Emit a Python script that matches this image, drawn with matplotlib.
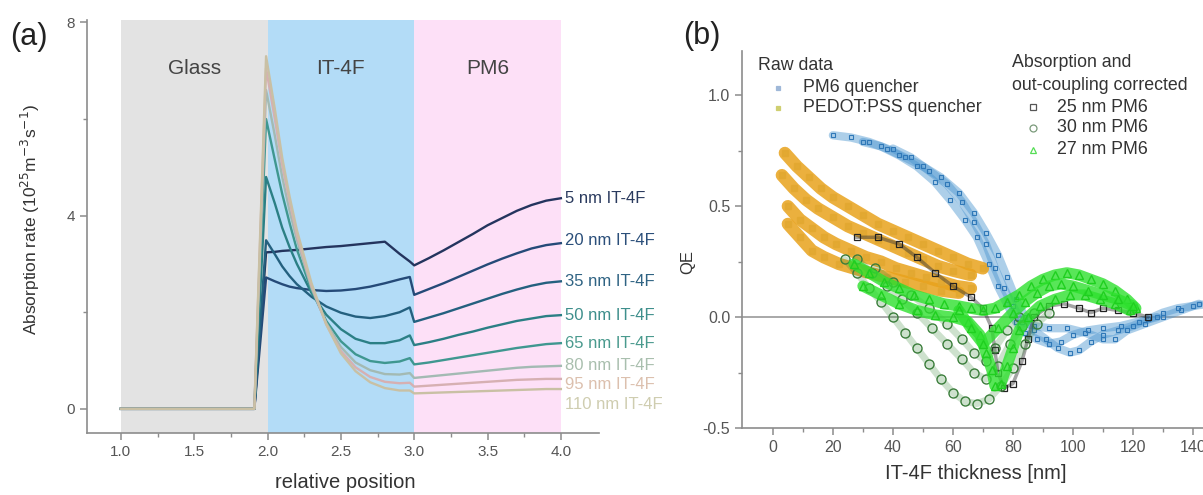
import matplotlib
matplotlib.use("Agg")
import matplotlib.pyplot as plt
from matplotlib.lines import Line2D

plt.rcParams['font.family'] = ['Liberation Sans', 'DejaVu Sans']
plt.rcParams['axes.unicode_minus'] = False

# ---- panel (a): absorption profiles ----
pos = [1.0, 1.91, 1.99, 2.05, 2.1, 2.15, 2.2, 2.3, 2.4, 2.5, 2.6, 2.7, 2.8, 2.9, 2.97,
       3.0, 3.1, 3.2, 3.3, 3.4, 3.5, 3.6, 3.7, 3.8, 3.9, 4.0]
nm5 = [0, 0, 3.24, 3.25, 3.27, 3.28, 3.29, 3.32, 3.35, 3.37, 3.4, 3.43, 3.46, 3.21, 3.05,
       2.97, 3.12, 3.28, 3.45, 3.62, 3.8, 3.95, 4.1, 4.22, 4.31, 4.36]
nm20 = [0, 0, 2.72, 2.64, 2.58, 2.53, 2.5, 2.46, 2.44, 2.45, 2.48, 2.53, 2.6, 2.68, 2.73,
        2.36, 2.48, 2.6, 2.73, 2.86, 2.99, 3.11, 3.22, 3.32, 3.39, 3.43]
nm35 = [0, 0, 3.49, 3.2, 2.95, 2.75, 2.58, 2.32, 2.12, 1.99, 1.91, 1.88, 1.92, 2.0, 2.1,
        1.8, 1.89, 1.98, 2.08, 2.18, 2.28, 2.38, 2.47, 2.55, 2.61, 2.64]
nm50 = [0, 0, 4.8, 4.25, 3.75, 3.35, 3.0, 2.4, 1.95, 1.65, 1.45, 1.36, 1.36, 1.42, 1.52,
        1.32, 1.38, 1.45, 1.53, 1.6, 1.68, 1.75, 1.82, 1.87, 1.92, 1.94]
nm65 = [0, 0, 6.0, 5.15, 4.45, 3.85, 3.3, 2.45, 1.82, 1.4, 1.13, 0.99, 0.95, 0.98, 1.05,
        0.92, 0.96, 1.01, 1.06, 1.11, 1.16, 1.21, 1.26, 1.3, 1.34, 1.36]
nm80 = [0, 0, 6.6, 5.65, 4.8, 4.1, 3.5, 2.5, 1.78, 1.28, 0.96, 0.8, 0.72, 0.71, 0.74,
        0.64, 0.67, 0.7, 0.73, 0.76, 0.79, 0.82, 0.85, 0.87, 0.88, 0.89]
nm95 = [0, 0, 7.05, 6.0, 5.05, 4.3, 3.6, 2.55, 1.75, 1.2, 0.86, 0.66, 0.56, 0.53, 0.54,
        0.46, 0.48, 0.5, 0.52, 0.54, 0.56, 0.58, 0.6, 0.61, 0.62, 0.62]
nm110 = [0, 0, 7.3, 6.2, 5.2, 4.4, 3.7, 2.6, 1.75, 1.15, 0.78, 0.55, 0.43, 0.38, 0.38,
         0.32, 0.33, 0.34, 0.35, 0.36, 0.37, 0.38, 0.39, 0.4, 0.41, 0.41]
curves = [nm5, nm20, nm35, nm50, nm65, nm80, nm95, nm110]
names = ["5 nm IT-4F", "20 nm IT-4F", "35 nm IT-4F", "50 nm IT-4F",
         "65 nm IT-4F", "80 nm IT-4F", "95 nm IT-4F", "110 nm IT-4F"]
label_y = [4.36, 3.49, 2.64, 1.94, 1.36, 0.89, 0.5, 0.1]
line_cols = ["#24345e", "#254a78", "#24607f", "#2b7f85", "#3f9790", "#a3bab3", "#d6b0b2", "#c9c0a4"]
text_cols = ["#2a3a5e", "#2b4f7a", "#2f6383", "#3e8f8c", "#4a9a8e", "#a9bfae", "#dcc0ae", "#cfcdb0"]

layers = ["Glass", "IT-4F", "PM6"]
layer_edges = [1.0, 2.0, 3.0, 4.0]
layer_cols = ["#e3e3e3", "#b3dcf7", "#fde0f7"]

# ---- panel (b): QE vs thickness, tracks ----
pm6_x1 = [20, 26, 32, 38, 44, 50, 56, 62, 67, 71, 75, 78, 81, 84, 87, 91, 95, 99, 102, 106,
          110, 115, 120, 125, 130, 135, 140, 145]
pm6_y1 = [0.82, 0.81, 0.79, 0.76, 0.72, 0.68, 0.63, 0.56, 0.47, 0.38, 0.28, 0.18, 0.08, 0.0,
          -0.06, -0.1, -0.14, -0.16, -0.15, -0.11, -0.08, -0.06, -0.04, -0.01, 0.02, 0.04, 0.05, 0.06]
pm6_x2 = [30, 36, 42, 48, 54, 59, 64, 68, 72, 75, 78, 81, 84, 88, 92, 96, 100, 105, 110, 116, 122, 128]
pm6_y2 = [0.79, 0.77, 0.73, 0.68, 0.61, 0.53, 0.44, 0.36, 0.24, 0.14, 0.06, -0.02, -0.07, -0.1,
          -0.12, -0.11, -0.08, -0.06, -0.05, -0.04, -0.02, 0.0]
pm6_x3 = [40, 46, 52, 58, 63, 67, 71, 74, 77, 80, 83, 87, 92, 98, 104, 110, 114, 118, 124, 130, 136, 142]
pm6_y3 = [0.76, 0.72, 0.66, 0.6, 0.52, 0.43, 0.33, 0.22, 0.13, 0.05, -0.02, -0.04, -0.05, -0.05,
          -0.07, -0.1, -0.1, -0.06, -0.03, 0.0, 0.03, 0.06]

ped_x1 = [4, 8, 12, 16, 20, 25, 30, 35, 40, 45, 50, 55, 60, 65, 70]
ped_y1 = [0.74, 0.68, 0.63, 0.58, 0.54, 0.5, 0.46, 0.42, 0.39, 0.36, 0.33, 0.3, 0.27, 0.24, 0.22]
ped_x2 = [3, 7, 11, 15, 20, 25, 30, 35, 40, 45, 50, 55, 60, 66]
ped_y2 = [0.64, 0.58, 0.53, 0.49, 0.45, 0.41, 0.38, 0.35, 0.32, 0.29, 0.26, 0.23, 0.21, 0.19]
ped_x3 = [5, 9, 13, 17, 21, 26, 31, 36, 41, 46, 51, 56, 61, 66]
ped_y3 = [0.5, 0.44, 0.4, 0.36, 0.33, 0.3, 0.27, 0.25, 0.22, 0.2, 0.18, 0.16, 0.14, 0.13]
ped_x4 = [5, 9, 13, 17, 22, 27, 32, 38, 44, 50, 56, 62]
ped_y4 = [0.42, 0.36, 0.3, 0.27, 0.24, 0.22, 0.2, 0.18, 0.16, 0.14, 0.12, 0.11]

pm25_x = [28, 35, 42, 48, 54, 60, 66, 70, 73, 74, 75, 77, 80, 83, 85, 87, 92, 97, 102, 106, 110, 115, 120, 125]
pm25_y = [0.36, 0.36, 0.33, 0.27, 0.2, 0.14, 0.09, 0.04, -0.05, -0.15, -0.25, -0.32, -0.3, -0.2,
          -0.1, 0.0, 0.05, 0.06, 0.04, 0.02, 0.04, 0.03, 0.02, 0.0]

pm30_x1 = [24, 28, 32, 36, 40, 44, 48, 52, 56, 60, 64, 68, 72, 76, 80, 84, 88, 92]
pm30_y1 = [0.26, 0.2, 0.13, 0.07, 0.0, -0.07, -0.14, -0.21, -0.28, -0.34, -0.38, -0.39, -0.37,
           -0.31, -0.23, -0.12, -0.03, 0.02]
pm30_x2 = [28, 33, 38, 43, 48, 53, 58, 63, 67, 71, 75, 79, 83, 87]
pm30_y2 = [0.26, 0.2, 0.14, 0.08, 0.02, -0.05, -0.12, -0.19, -0.25, -0.28, -0.22, -0.12, -0.04, 0.02]
pm30_x3 = [34, 40, 46, 52, 58, 63, 67, 71, 74, 78, 82]
pm30_y3 = [0.22, 0.16, 0.1, 0.04, -0.03, -0.1, -0.16, -0.2, -0.14, -0.06, 0.0]

pm27_x1 = [27, 32, 37, 42, 47, 52, 57, 62, 66, 70, 74, 78, 82, 86, 90, 94, 98, 102, 106, 110, 114, 118, 121]
pm27_y1 = [0.24, 0.2, 0.16, 0.13, 0.1, 0.08, 0.06, 0.05, 0.04, 0.03, 0.04, 0.07, 0.1, 0.14, 0.17,
           0.19, 0.2, 0.19, 0.17, 0.15, 0.12, 0.08, 0.04]
pm27_x2 = [30, 36, 42, 48, 54, 60, 65, 69, 71, 73, 74, 76, 78, 80, 82, 85, 89, 94, 99, 104, 109, 114, 119]
pm27_y2 = [0.14, 0.1, 0.06, 0.03, 0.01, 0.0, -0.02, -0.08, -0.16, -0.24, -0.31, -0.3, -0.22, -0.14,
           -0.06, 0.0, 0.05, 0.08, 0.1, 0.1, 0.08, 0.06, 0.03]
pm27_x3 = [62, 66, 70, 75, 80, 84, 88, 92, 96, 100, 105, 110, 115, 120]
pm27_y3 = [0.03, -0.05, -0.12, -0.05, 0.02, 0.07, 0.11, 0.14, 0.15, 0.14, 0.12, 0.1, 0.08, 0.05]

W, H = 1203, 495
fig = plt.figure(figsize=(W / 100, H / 100), dpi=100)

gray = "#8c8c8c"
tick_col = "#555555"

def style(ax, fs):
    for s in ["top", "right"]:
        ax.spines[s].set_visible(False)
    for s in ["left", "bottom"]:
        ax.spines[s].set_color(gray)
        ax.spines[s].set_linewidth(1.2)
    ax.tick_params(which="both", color=gray, labelcolor=tick_col, labelsize=fs, direction="out")
    ax.tick_params(which="major", length=5, width=1.1)
    ax.tick_params(which="minor", length=3, width=1.0)

# panel (a)
axa = fig.add_axes([87 / W, 1 - 433 / H, (599 - 87) / W, (433 - 20) / H])
for i in range(3):
    axa.axvspan(layer_edges[i], layer_edges[i + 1], color=layer_cols[i], lw=0, zorder=0)
    axa.text((layer_edges[i] + layer_edges[i + 1]) / 2, 7.05, layers[i], ha="center", va="center",
             fontsize=15, color="#444444")
for c, col in zip(curves, line_cols):
    axa.plot(pos, c, color=col, lw=1.7, zorder=2)
for name, ly, col in zip(names, label_y, text_cols):
    axa.text(4.03, ly, name, ha="left", va="center", fontsize=12, color=col)
axa.set_xlim(0.769, 4.26)
axa.set_ylim(-0.5, 8.05)
axa.set_xticks([1.0, 1.5, 2.0, 2.5, 3.0, 3.5, 4.0])
axa.set_xticks([1.25, 1.75, 2.25, 2.75, 3.25, 3.75], minor=True)
axa.set_yticks([0, 4, 8])
axa.set_yticks([2, 6], minor=True)
style(axa, 11)
axa.set_xlabel("relative position", fontsize=14.5, color="#333333")
axa.xaxis.set_label_coords((345 - 87) / 512, -0.098)
axa.set_ylabel("Absorption rate (10$^{25}$m$^{-3}$s$^{-1}$)", fontsize=12.5, color="#333333")
axa.yaxis.set_label_coords(-0.088, 0.516)
fig.text(10 / W, 1 - 37 / H, "(a)", fontsize=22, va="center", ha="left", color="#222222")

# panel (b)
axb = fig.add_axes([742 / W, 1 - 428 / H, 160.3 * 3 / W, 377 / H])
axb.axhline(0, color="#999999", lw=1.2, zorder=1)

blue = "#4a95d0"
orange = "#e8a21c"
for xs, ys in [(pm6_x1, pm6_y1), (pm6_x2, pm6_y2), (pm6_x3, pm6_y3)]:
    axb.plot(xs, ys, color=blue, lw=6, alpha=0.45, solid_capstyle="round", zorder=2)
    axb.plot(xs, ys, ls="none", marker="s", ms=3.5, mfc="none", mec="#2f78b8", mew=0.8, zorder=3)
for xs, ys in [(ped_x1, ped_y1), (ped_x2, ped_y2), (ped_x3, ped_y3), (ped_x4, ped_y4)]:
    axb.plot(xs, ys, color=orange, lw=9, alpha=0.85, solid_capstyle="round", zorder=2)
    axb.plot(xs, ys, ls="none", marker="s", ms=4, color="#e2a830", alpha=0.8, zorder=3)
axb.plot(pm25_x, pm25_y, color="#333333", lw=2.5, alpha=0.45, zorder=4)
axb.plot(pm25_x, pm25_y, ls="none", marker="s", ms=5, mfc="none", mec="#222222", mew=0.9, zorder=4)
for xs, ys in [(pm30_x1, pm30_y1), (pm30_x2, pm30_y2), (pm30_x3, pm30_y3)]:
    axb.plot(xs, ys, color="#3a8a3a", lw=5, alpha=0.25, solid_capstyle="round", zorder=5)
    axb.plot(xs, ys, ls="none", marker="o", ms=6.5, mfc="none", mec="#3a7d3a", mew=1.0, zorder=5)
for xs, ys in [(pm27_x1, pm27_y1), (pm27_x2, pm27_y2), (pm27_x3, pm27_y3)]:
    axb.plot(xs, ys, color="#2ee02e", lw=8, alpha=0.8, solid_capstyle="round", zorder=6)
    axb.plot(xs, ys, ls="none", marker="^", ms=6, mfc="none", mec="#1fcf1f", mew=1.0, zorder=6)

axb.set_xlim(-10.3, 150)
axb.set_ylim(-0.5, 1.2)
axb.set_xticks([0, 20, 40, 60, 80, 100, 120, 140])
axb.set_xticks([10, 30, 50, 70, 90, 110, 130], minor=True)
axb.set_yticks([-0.5, 0.0, 0.5, 1.0])
axb.set_yticks([-0.25, 0.25, 0.75], minor=True)
style(axb, 11.5)
axb.set_xlabel("IT-4F thickness [nm]", fontsize=14.5, color="#333333")
axb.xaxis.set_label_coords((976 - 742) / (160.3 * 3), -0.095)
axb.set_ylabel("QE", fontsize=12, color="#333333")
axb.yaxis.set_label_coords(-(742 - 695) / (160.3 * 3), 0.44)
fig.text(683 / W, 1 - 36 / H, "(b)", fontsize=22, va="center", ha="left", color="#222222")

# hand-placed legend blocks
leg_fs = 12.8
fig.text(758 / W, 1 - 65 / H, "Raw data", fontsize=leg_fs, va="center", color="#333333")
fig.text(803 / W, 1 - 88 / H, "PM6 quencher", fontsize=leg_fs, va="center", color="#333333")
fig.text(803 / W, 1 - 108 / H, "PEDOT:PSS quencher", fontsize=leg_fs, va="center", color="#333333")
fig.text(1012 / W, 1 - 63 / H, "Absorption and", fontsize=leg_fs, va="center", color="#333333")
fig.text(1012 / W, 1 - 85 / H, "out-coupling corrected", fontsize=leg_fs, va="center", color="#333333")
fig.text(1057 / W, 1 - 107 / H, "25 nm PM6", fontsize=leg_fs, va="center", color="#333333")
fig.text(1057 / W, 1 - 128 / H, "30 nm PM6", fontsize=leg_fs, va="center", color="#333333")
fig.text(1057 / W, 1 - 150 / H, "27 nm PM6", fontsize=leg_fs, va="center", color="#333333")
legend_marks = [(778, 88, "s", "#9fb8d8", "#9fb8d8", 3),
                (778, 108, "s", "#cfcf70", "#cfcf70", 3),
                (1033, 107, "s", "none", "#555555", 4.5),
                (1033, 128, "o", "none", "#7a9a7a", 5),
                (1033, 150, "^", "none", "#55dd55", 5)]
for mx, my, mk, fc, ec, ms in legend_marks:
    fig.add_artist(Line2D([mx / W], [1 - my / H], marker=mk, ms=ms, mfc=fc, mec=ec, mew=0.9,
                          ls="none", transform=fig.transFigure))

fig.savefig("out.png", dpi=100)
